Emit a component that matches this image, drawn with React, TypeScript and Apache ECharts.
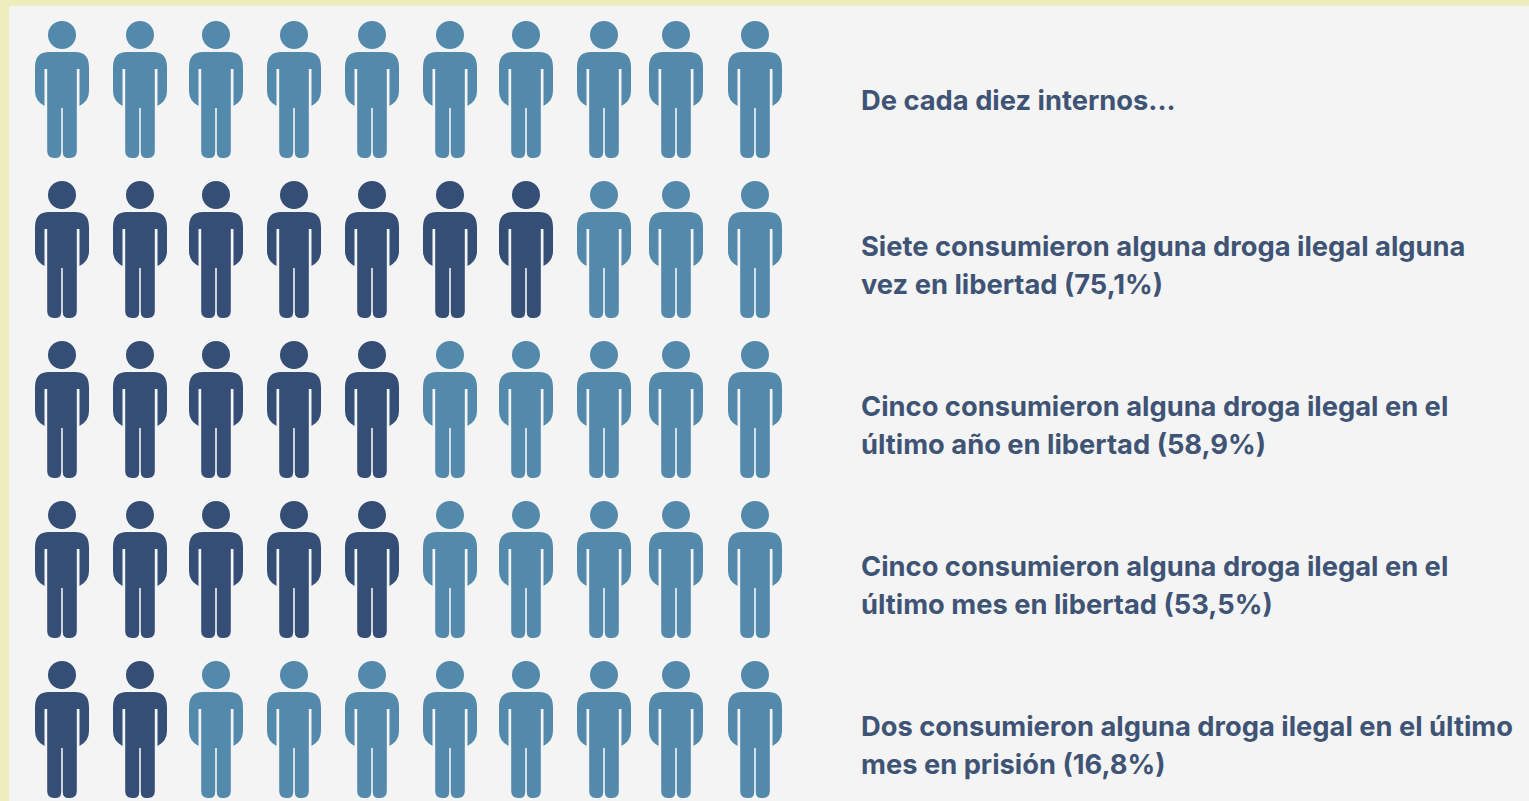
import React, { useEffect, useRef } from "react";
import * as echarts from "echarts";

const columns = ["1", "2", "3", "4", "5", "6", "7", "8", "9", "10"];
const rows = ["Base", "Alguna vez", "Último año", "Último mes", "Prisión"];
const highlighted = [0, 7, 5, 5, 2];
const captions = [
  "De cada diez internos...",
  "Siete consumieron alguna droga ilegal alguna\nvez en libertad (75,1%)",
  "Cinco consumieron alguna droga ilegal en el\núltimo año en libertad (58,9%)",
  "Cinco consumieron alguna droga ilegal en el\núltimo mes en libertad (53,5%)",
  "Dos consumieron alguna droga ilegal en el último\nmes en prisión (16,8%)",
];

const PERSON =
  "path://M27 0A14 14 0 1 1 27 28A14 14 0 1 1 27 0Z" +
  "M14 31L40 31Q54 31 54 46L54 70Q54 80 44.5 85L44.5 48L41.8 48L41.8 130Q41.8 137 35 137L33.5 137Q27.8 137 27.8 131L27.8 87L26.2 87L26.2 131Q26.2 137 20.5 137L19 137Q12.2 137 12.2 130L12.2 48L9.5 48L9.5 85Q0 80 0 70L0 46Q0 31 14 31Z";

const DARK = "#354e76";
const LIGHT = "#5389ab";
const TEXT = "#3f5475";
const columnNudge = [0, 1, 0, 1, 2, 3, 2, 3, -2, 0];
const captionCentres = [100, 265.5, 425.5, 585, 745];

function points(dark: boolean) {
  const out: any[] = [];
  rows.forEach((_, r) => {
    columns.forEach((_, c) => {
      if (c < highlighted[r] === dark) {
        out.push({ value: [c, r], symbolOffset: [columnNudge[c], 0] });
      }
    });
  });
  return out;
}

export default function App() {
  const ref = useRef<HTMLDivElement>(null);
  useEffect(() => {
    document.body.style.margin = "0";
    const chart = echarts.init(ref.current!, undefined, { renderer: "svg" });
    const personSeries = (name: string, color: string, dark: boolean) => ({
      name,
      type: "scatter",
      symbol: PERSON,
      symbolSize: [54, 137],
      itemStyle: { color, opacity: 1 },
      silent: true,
      data: points(dark),
    });
    chart.setOption({
      animation: false,
      backgroundColor: "#eeebbd",
      grid: { left: 62, top: 89.5, width: 693, height: 640 },
      xAxis: { type: "category", data: columns, boundaryGap: false, show: false },
      yAxis: { type: "category", data: rows, boundaryGap: false, inverse: true, show: false },
      tooltip: { show: false },
      legend: { show: false },
      graphic: [
        {
          type: "rect",
          z: -10,
          silent: true,
          shape: { x: 9, y: 6, width: 1520, height: 795 },
          style: { fill: "#f4f4f4" },
        },
        ...captions.map((text, i) => ({
          type: "text",
          x: 861,
          y: captionCentres[i],
          style: {
            text,
            fill: TEXT,
            font: '700 27.3px Inter, "Noto Sans", sans-serif',
            lineHeight: 38,
            verticalAlign: "middle",
            align: "left",
          },
        })),
      ],
      series: [personSeries("Consumo", DARK, true), personSeries("Resto", LIGHT, false)],
    });
    return () => chart.dispose();
  }, []);
  return <div ref={ref} style={{ width: 1529, height: 801 }} />;
}
